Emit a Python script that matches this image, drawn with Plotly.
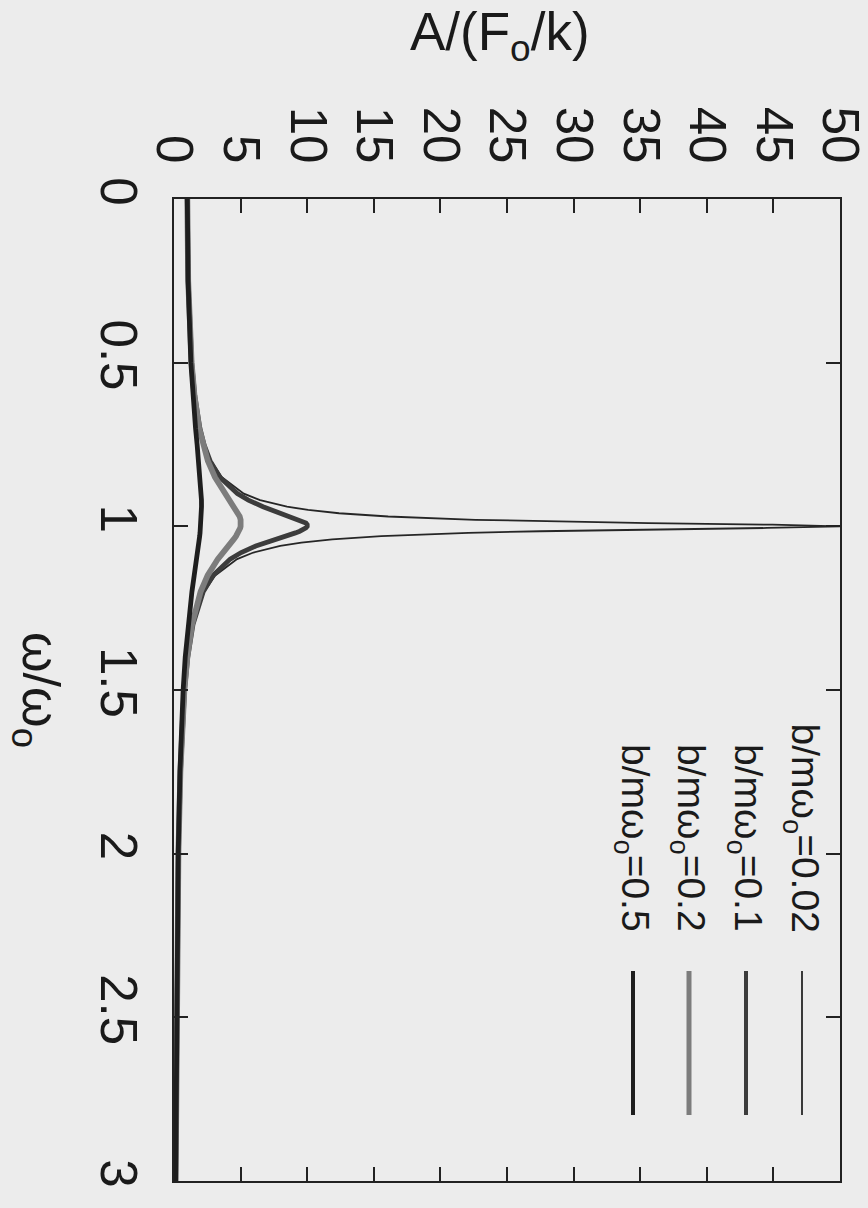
import plotly.graph_objects as go

# ---- data ----
omega = [0, 0.25, 0.5, 0.6, 0.7, 0.75, 0.8, 0.85, 0.9, 0.92,
         0.94, 0.95, 0.96, 0.97, 0.98, 0.985, 0.99, 0.995, 1.0, 1.005,
         1.01, 1.015, 1.02, 1.03, 1.04, 1.05, 1.06, 1.08, 1.1, 1.15,
         1.2, 1.3, 1.4, 1.5, 1.75, 2.0, 2.5, 3.0]

amp_002 = [1.0, 1.067, 1.333, 1.562, 1.960, 2.284, 2.775, 3.597, 5.240, 6.464,
           8.481, 10.07, 12.39, 16.08, 22.63, 28.01, 35.62, 44.92, 50.0, 44.52,
           35.09, 27.47, 22.10, 15.56, 11.88, 9.558, 7.974, 5.960, 4.736, 3.093,
           2.269, 1.448, 1.041, 0.800, 0.485, 0.333, 0.190, 0.125]

amp_01 = [1.0, 1.066, 1.330, 1.556, 1.943, 2.253, 2.712, 3.446, 4.757, 5.585,
          6.684, 7.346, 8.068, 8.804, 9.461, 9.718, 9.903, 10.00, 10.0, 9.901,
          9.711, 9.442, 9.115, 8.357, 7.565, 6.815, 6.141, 5.041, 4.218, 2.921,
          2.193, 1.424, 1.031, 0.794, 0.483, 0.333, 0.190, 0.125]

amp_02 = [1.0, 1.065, 1.322, 1.536, 1.891, 2.162, 2.538, 3.073, 3.821, 4.172,
          4.523, 4.683, 4.822, 4.931, 5.001, 5.019, 5.025, 5.019, 5.0, 4.969,
          4.926, 4.872, 4.809, 4.655, 4.476, 4.279, 4.075, 3.668, 3.288, 2.525,
          1.995, 1.356, 1.0, 0.778, 0.478, 0.330, 0.190, 0.125]

amp_05 = [1.0, 1.057, 1.265, 1.415, 1.617, 1.736, 1.858, 1.970, 2.047, 2.062,
          2.065, 2.062, 2.056, 2.047, 2.034, 2.027, 2.019, 2.010, 2.0, 1.990,
          1.979, 1.967, 1.955, 1.928, 1.900, 1.870, 1.838, 1.770, 1.699, 1.517,
          1.344, 1.055, 0.842, 0.686, 0.446, 0.316, 0.185, 0.123]

series_names = ["b/mω<sub>o</sub>=0.02", "b/mω<sub>o</sub>=0.1",
                "b/mω<sub>o</sub>=0.2", "b/mω<sub>o</sub>=0.5"]
series_vals = [amp_002, amp_01, amp_02, amp_05]

amp_ticks = [0, 5, 10, 15, 20, 25, 30, 35, 40, 45, 50]
omega_ticks = [0, 0.5, 1, 1.5, 2, 2.5, 3]

# ---- styling ----
W, H = 868, 1208
L, R, T, B = 174, 840, 199, 1181
BG = "#ececec"
FONT = "Liberation Sans"
colors = ["#262626", "#3c3c3c", "#7c7c7c", "#1e1e1e"]
widths = [1.8, 4.8, 5.8, 4.8]

def px2paper(px, py):
    return (px - L) / (R - L), (B - py) / (B - T)

fig = go.Figure()
for name, vals, c, w in zip(series_names, series_vals, colors, widths):
    fig.add_trace(go.Scatter(x=vals, y=omega, mode="lines", name=name,
                             line=dict(color=c, width=w), showlegend=False))

axis_common = dict(showgrid=False, zeroline=False, showline=True, linecolor="#222",
                   linewidth=1.6, mirror="allticks", ticks="inside", ticklen=14,
                   tickwidth=1.5, tickcolor="#222", tickangle=90,
                   ticklabeloverflow="allow",
                   tickfont=dict(family=FONT, size=51, color="#1a1a1a"))

fig.update_layout(
    width=W, height=H,
    margin=dict(l=L, r=W - R, t=T, b=H - B, autoexpand=False),
    paper_bgcolor=BG, plot_bgcolor=BG,
    xaxis=dict(range=[0, 50], side="top", tickvals=amp_ticks,
               ticklabelstandoff=16, **axis_common),
    yaxis=dict(range=[3, 0], tickvals=omega_ticks,
               ticklabelstandoff=10, **axis_common),
)

# axis titles
fig.add_annotation(text="A/(F<sub>o</sub>/k)", xref="paper", yref="paper",
                   x=px2paper(500, 0)[0], y=px2paper(0, 0)[1],
                   xanchor="center", yanchor="top", showarrow=False,
                   font=dict(family=FONT, size=53, color="#1a1a1a"))
fig.add_annotation(text="ω/ω<sub>o</sub>", xref="paper", yref="paper",
                   x=px2paper(37, 0)[0], y=px2paper(0, 690)[1],
                   xanchor="center", yanchor="middle", showarrow=False, textangle=90,
                   font=dict(family=FONT, size=52, color="#1a1a1a"))

# legend (rotated, drawn manually)
leg_x = [802, 746, 689, 633]
for name, c, w, lx in zip(series_names, colors, widths, leg_x):
    x0, y0 = px2paper(lx, 971)
    x1, y1 = px2paper(lx, 1115)
    fig.add_shape(type="line", xref="paper", yref="paper", x0=x0, y0=y0, x1=x1, y1=y1,
                  line=dict(color=c, width=max(w - 0.8, 1.8)))
    tx, ty = px2paper(lx, 934)
    fig.add_annotation(text=name, xref="paper", yref="paper", x=tx, y=ty,
                       xanchor="center", yanchor="bottom", showarrow=False, textangle=90,
                       font=dict(family=FONT, size=39, color="#1a1a1a"))

fig.write_html("out.html", config={"displayModeBar": False},
               post_script="document.body.style.margin='0';document.body.style.background='%s';" % BG)
